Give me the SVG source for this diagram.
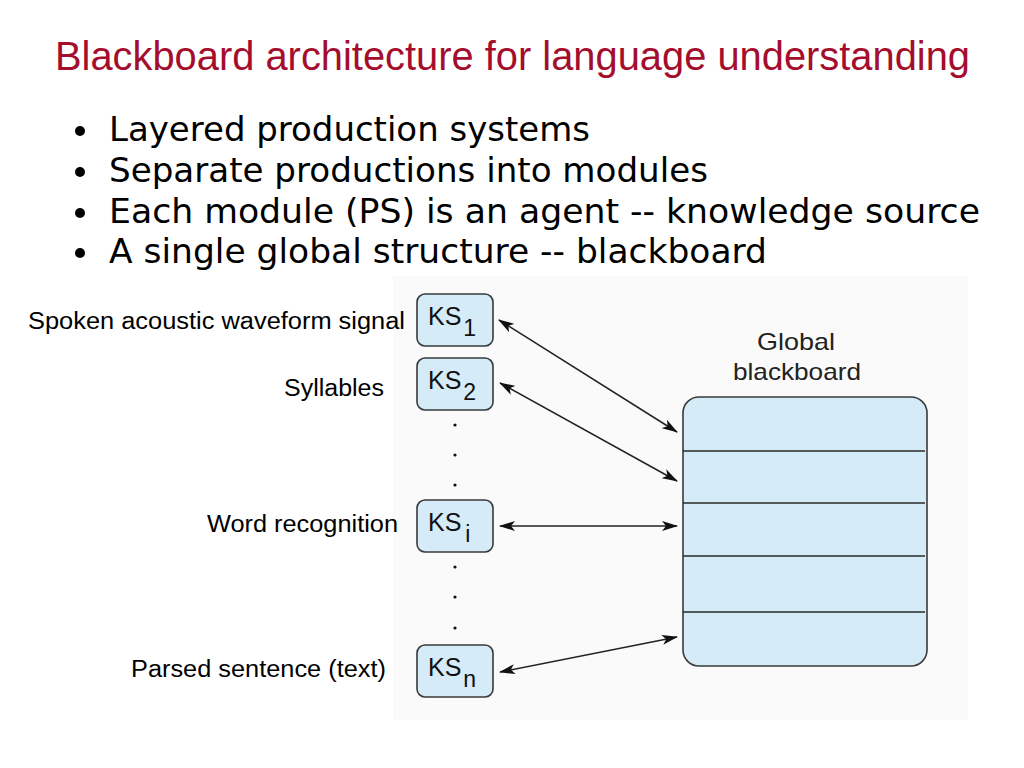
<svg xmlns="http://www.w3.org/2000/svg" width="1024" height="768" viewBox="0 0 1024 768">
<style>
.title{font-family:"Liberation Sans",Arial,sans-serif;font-size:40px;fill:#a50d2d}
.bul{font-family:"DejaVu Sans","Noto Sans",sans-serif;font-size:34px;fill:#000}
.lab{font-family:"Liberation Sans",Arial,sans-serif;font-size:23px;fill:#000}
.ks{font-family:"Liberation Sans",Arial,sans-serif;font-size:25px;fill:#111}
.sub{font-size:23px}
.box{fill:#d5ebf8;stroke:#3a3a3a;stroke-width:1.6}
.div{stroke:#2a2a2a;stroke-width:1.6}
.conn{stroke:#222;stroke-width:1.5;fill:none;marker-start:url(#ah);marker-end:url(#ah)}
.gb{font-family:"Liberation Sans",Arial,sans-serif;font-size:24px;fill:#222;text-anchor:middle}
</style>
<defs>
<marker id="ah" viewBox="0 0 16 10" refX="15" refY="5" markerWidth="16" markerHeight="10" markerUnits="userSpaceOnUse" orient="auto-start-reverse">
<path d="M0,0 L16,5 L0,10 L4,5 z" fill="#111"/>
</marker>
</defs>
<rect x="0" y="0" width="1024" height="768" fill="#fff"/>
<rect x="393" y="276" width="575" height="444" fill="#fafafa"/>
<text class="title" x="55" y="70" textLength="915" lengthAdjust="spacingAndGlyphs">Blackboard architecture for language understanding</text>
<g id="bullets">
<circle cx="80" cy="131" r="5" fill="#000"/>
<text class="bul" x="109" y="141" textLength="481" lengthAdjust="spacingAndGlyphs">Layered production systems</text>
<circle cx="80" cy="172" r="5" fill="#000"/>
<text class="bul" x="109" y="182" textLength="599" lengthAdjust="spacingAndGlyphs">Separate productions into modules</text>
<circle cx="80" cy="213" r="5" fill="#000"/>
<text class="bul" x="109" y="223" textLength="871" lengthAdjust="spacingAndGlyphs">Each module (PS) is an agent -- knowledge source</text>
<circle cx="80" cy="253" r="5" fill="#000"/>
<text class="bul" x="109" y="263" textLength="658" lengthAdjust="spacingAndGlyphs">A single global structure -- blackboard</text>
</g>
<g id="labels">
<text class="lab" x="28" y="329" textLength="377" lengthAdjust="spacingAndGlyphs">Spoken acoustic waveform signal</text>
<text class="lab" x="284" y="396" textLength="100" lengthAdjust="spacingAndGlyphs">Syllables</text>
<text class="lab" x="207" y="532" textLength="191" lengthAdjust="spacingAndGlyphs">Word recognition</text>
<text class="lab" x="131" y="677" textLength="255" lengthAdjust="spacingAndGlyphs">Parsed sentence (text)</text>
</g>
<g id="ks1"><rect class="box" x="417" y="294" width="76" height="52" rx="8"/><text class="ks" x="428" y="325">KS<tspan class="sub" dx="2" dy="11">1</tspan></text></g>
<g id="ks2"><rect class="box" x="417" y="358" width="76" height="52" rx="8"/><text class="ks" x="428" y="389">KS<tspan class="sub" dx="2" dy="11">2</tspan></text></g>
<g id="ksi"><rect class="box" x="417" y="500" width="76" height="52" rx="8"/><text class="ks" x="428" y="531">KS<tspan class="sub" dx="4" dy="11">i</tspan></text></g>
<g id="ksn"><rect class="box" x="417" y="645" width="76" height="52" rx="8"/><text class="ks" x="428" y="676">KS<tspan class="sub" dx="2" dy="11">n</tspan></text></g>
<g id="dots" fill="#111">
<circle cx="455" cy="425" r="1.6"/><circle cx="455" cy="455" r="1.6"/><circle cx="455" cy="485" r="1.6"/>
<circle cx="455" cy="567" r="1.6"/><circle cx="455" cy="597" r="1.6"/><circle cx="455" cy="628" r="1.6"/>
</g>
<g id="blackboard">
<text class="gb" x="796" y="350" textLength="78" lengthAdjust="spacingAndGlyphs">Global</text>
<text class="gb" x="797" y="380" textLength="128" lengthAdjust="spacingAndGlyphs">blackboard</text>
<rect class="box" x="683" y="397" width="244" height="269" rx="16"/>
<line class="div" x1="683" y1="451" x2="925" y2="451"/>
<line class="div" x1="683" y1="503" x2="925" y2="503"/>
<line class="div" x1="683" y1="556" x2="925" y2="556"/>
<line class="div" x1="683" y1="612" x2="925" y2="612"/>
</g>
<g id="connectors">
<line class="conn" x1="499" y1="320" x2="677" y2="432"/>
<line class="conn" x1="500" y1="383" x2="677" y2="481"/>
<line class="conn" x1="500" y1="526" x2="677" y2="526"/>
<line class="conn" x1="500" y1="672" x2="677" y2="637"/>
</g>
</svg>
